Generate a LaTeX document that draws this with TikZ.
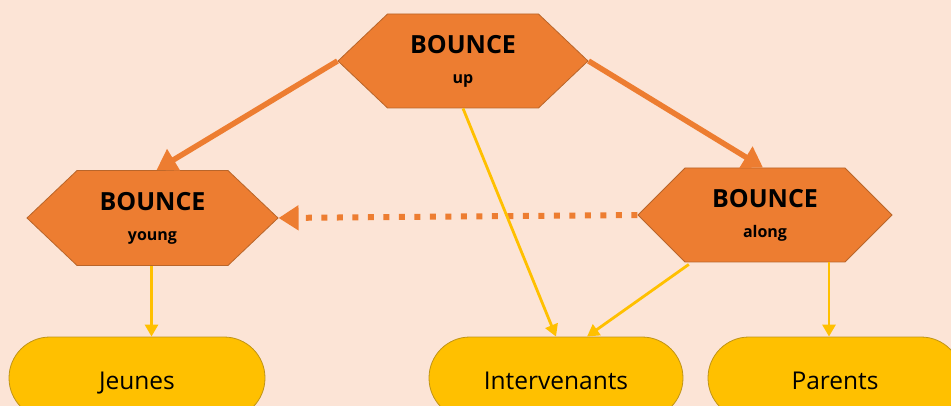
\documentclass[tikz,border=0pt]{standalone}
\usepackage{fontspec}
\setmainfont{Open Sans}
\usetikzlibrary{shapes.symbols,shapes.misc,arrows.meta}
\definecolor{bg}{HTML}{FCE4D6}
\definecolor{hexfill}{HTML}{ED7D31}
\definecolor{hexdraw}{HTML}{B9652A}
\definecolor{yel}{HTML}{FFC000}
\definecolor{yeldraw}{HTML}{C09418}
\tikzset{
  hexbox/.style={shape=signal, signal to=east and west, fill=hexfill, draw=hexdraw,
    line width=0.8pt, inner sep=0pt, align=center,
    font=\fontsize{25}{30}\selectfont\bfseries},
  stadium/.style={shape=rounded rectangle, fill=yel, draw=yeldraw, line width=0.8pt,
    minimum height=82pt, inner sep=0pt, text height=22pt, text depth=0pt,
    font=\fontsize{24.5}{28}\selectfont},
  orangearrow/.style={draw=hexfill, line width=5.5pt, -{Triangle[length=20pt,width=24pt]}},
  dasharrow/.style={draw=hexfill, line width=6pt, dash pattern=on 6pt off 9.5pt,
    -{Triangle[length=20pt,width=24pt]}},
  yelarrow/.style={draw=yel, line width=2.8pt, -{Triangle[length=12pt,width=13pt]}}
}
\newcommand{\smallword}[1]{{\fontsize{16}{30}\selectfont #1}}
\begin{document}
\begin{tikzpicture}[x=1pt,y=-1pt]
\useasboundingbox (0,0) rectangle (951,406);
\fill[bg] (0,0) rectangle (951,406);
\clip (0,0) rectangle (951,406);
\node[hexbox, minimum width=250pt, minimum height=94pt, signal pointer angle=87] (up) at (463,61) {BOUNCE\\\smallword{up}};
\node[hexbox, minimum width=251pt, minimum height=95pt, signal pointer angle=87] (young) at (152.5,218) {BOUNCE\\\smallword{young}};
\node[hexbox, minimum width=254pt, minimum height=94pt, signal pointer angle=90] (along) at (765,215) {BOUNCE\\\smallword{along}};
\node[stadium, minimum width=256pt] (jeunes) at (137,378) {Jeunes};
\node[stadium, minimum width=254pt] (interv) at (556,378) {Intervenants};
\node[stadium, minimum width=254pt] (parents) at (835,378) {Parents};
\draw[orangearrow] (up.west) -- ([xshift=4pt]young.north);
\draw[orangearrow] (up.east) -- ([xshift=-2pt]along.north);
\draw[dasharrow] (along.west) -- (young.east);
\draw[yelarrow] (up.south) -- (interv.north);
\draw[yelarrow] ([xshift=4pt,yshift=-2pt]along.south west) -- ([xshift=31pt]interv.north);
\draw[yelarrow] ([xshift=-1pt]young.south) -- ([xshift=-1pt]young.south |- jeunes.north);
\draw[yelarrow] ([xshift=-6pt]parents.north |- along.south) -- ([xshift=-6pt]parents.north);
\end{tikzpicture}
\end{document}
